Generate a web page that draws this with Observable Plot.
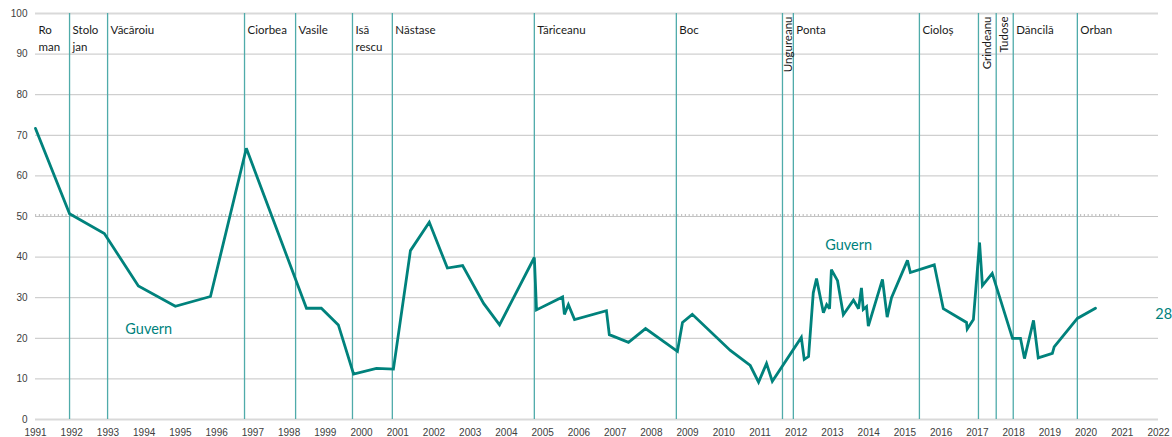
<!DOCTYPE html>
<html>
<head>
<meta charset="utf-8">
<script src="https://cdn.jsdelivr.net/npm/d3@7"></script>
<script src="https://cdn.jsdelivr.net/npm/@observablehq/plot@0.6"></script>
<style>
  html, body { margin: 0; padding: 0; background: #ffffff; }
  #chart svg { display: block; }
</style>
</head>
<body>
<div id="chart"></div>
<script>
// ---- Data ----
const years = [
  1991.00, 1991.94, 1992.90, 1993.84, 1994.86, 1995.83, 1996.82,
  1998.48, 1998.89, 1999.36, 1999.78, 2000.41, 2000.88,
  2001.35, 2001.87, 2002.37, 2002.79, 2003.37, 2003.81,
  2004.77, 2004.83, 2005.55, 2005.60, 2005.71, 2005.88,
  2006.76, 2006.84, 2007.37, 2007.84, 2008.72, 2008.86, 2009.13,
  2010.18, 2010.73, 2010.96, 2011.18, 2011.34,
  2012.14, 2012.22, 2012.34, 2012.47, 2012.56, 2012.75, 2012.84, 2012.92, 2012.97,
  2013.14, 2013.30, 2013.58, 2013.72, 2013.80, 2013.85, 2013.94, 2013.99,
  2014.38, 2014.51, 2014.63, 2015.07, 2015.15, 2015.81, 2016.06,
  2016.70, 2016.72, 2016.89, 2017.06, 2017.14, 2017.41,
  2017.97, 2018.19, 2018.30, 2018.55, 2018.68, 2019.07, 2019.12, 2019.76, 2020.26
];
const values = [
  71.7, 50.7, 45.8, 32.9, 27.9, 30.3, 66.8,
  27.4, 27.4, 23.3, 11.2, 12.6, 12.4,
  41.6, 48.6, 37.3, 37.9, 28.6, 23.3,
  39.9, 27.0, 30.2, 25.9, 28.3, 24.6,
  26.8, 20.9, 19.0, 22.4, 16.8, 23.9, 25.9,
  17.0, 13.3, 9.2, 13.8, 9.4,
  20.2, 14.8, 15.5, 31.2, 34.7, 26.3, 28.3, 27.3, 36.9,
  34.2, 25.8, 29.4, 27.3, 32.4, 27.1, 27.8, 23.0,
  34.5, 25.2, 30.0, 39.2, 36.2, 38.1, 27.3,
  23.9, 22.3, 24.6, 43.6, 33.0, 36.0,
  20.0, 20.0, 15.0, 24.4, 15.2, 16.3, 17.9, 24.9, 27.4
];

const govNames = ["Ro\nman", "Stolo\njan", "Văcăroiu", "Ciorbea", "Vasile", "Isă\nrescu", "Năstase",
  "Tăriceanu", "Boc", "Ungureanu", "Ponta", "Cioloș", "Grindeanu", "Tudose", "Dăncilă", "Orban"];
const govStarts = [1991.00, 1991.94, 1992.99, 1996.77, 1998.18, 1999.75, 2000.85,
  2004.77, 2008.69, 2011.62, 2011.92, 2015.40, 2017.03, 2017.52, 2017.99, 2019.76];
const govVertical = [false, false, false, false, false, false, false,
  false, false, true, false, false, true, true, false, false];

const xTicks = d3.range(1991, 2023);
const yTicks = d3.range(0, 101, 10);
const majorityLine = [50.4];

const noteTexts = ["Guvern", "Guvern", "28"];
const noteYears = [1993.48, 2012.80, 2021.91];
const noteValues = [22.3, 42.8, 26.0];

// ---- Derived tables ----
const series = years.map((x, i) => ({x, y: values[i]}));
const govs = govNames.map((name, i) => ({
  name, start: govStarts[i], vertical: govVertical[i],
  mid: i + 1 < govStarts.length ? (govStarts[i] + govStarts[i + 1]) / 2 : govStarts[i]
}));
const notes = noteTexts.map((t, i) => ({t, x: noteYears[i], y: noteValues[i]}));

const teal = "#00827c";
const ruleTeal = "#4fabaa";

const chart = Plot.plot({
  width: 1172,
  height: 437,
  marginLeft: 35,
  marginRight: 14,
  marginTop: 13,
  marginBottom: 18,
  style: {fontFamily: "'Liberation Sans', Arial, sans-serif", fontSize: "10px", color: "#404040", background: "#ffffff"},
  x: {domain: [1991, 2022], label: null},
  y: {domain: [0, 100], label: null},
  marks: [
    Plot.ruleY(yTicks.filter(d => d > 0 && d < 100), {stroke: "#c4c4c4", strokeWidth: 1}),
    Plot.ruleY([0, 100], {stroke: "#d9d9d9", strokeWidth: 2}),
    Plot.ruleY(majorityLine, {x1: 1991, x2: 2021, stroke: "#b0b0b0", strokeWidth: 1.5, strokeDasharray: "1.2,2.6"}),
    Plot.ruleX(govs.slice(1), {x: "start", y1: 0, y2: 100, stroke: ruleTeal, strokeWidth: 1.3}),
    Plot.axisX({ticks: xTicks, tickFormat: d => String(d), tickSize: 0, tickPadding: 9, label: null}),
    Plot.axisY({ticks: yTicks, tickFormat: d => String(d), tickSize: 0, tickPadding: 8, label: null}),
    Plot.line(series, {x: "x", y: "y", stroke: teal, strokeWidth: 2.8, strokeLinejoin: "miter", strokeMiterlimit: 3}),
    Plot.text(govs.filter(d => !d.vertical), {
      x: "start", y: 100, text: "name", textAnchor: "start", lineAnchor: "top",
      dx: 3, dy: 8.5, lineHeight: 1.48, fontSize: 11.5, fontFamily: "Lato, sans-serif", fill: "#1a1a1a"
    }),
    Plot.text(govs.filter(d => d.vertical), {
      x: "mid", y: 100, text: "name", rotate: -90, textAnchor: "end", lineAnchor: "middle",
      dy: 3, fontSize: 11.5, fontFamily: "Lato, sans-serif", fill: "#1a1a1a"
    }),
    Plot.text(notes, {
      x: "x", y: "y", text: "t", textAnchor: "start", lineAnchor: "middle",
      fontSize: 14.5, fontFamily: "Lato, sans-serif", fill: teal
    })
  ]
});
document.getElementById("chart").append(chart);
</script>
</body>
</html>
